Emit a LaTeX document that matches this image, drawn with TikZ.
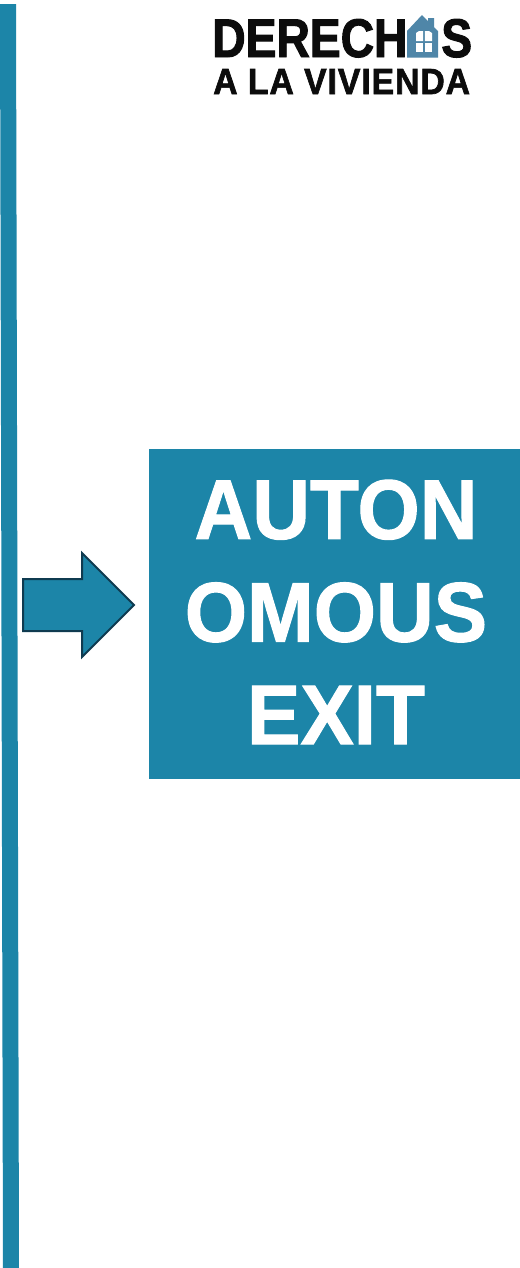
\documentclass[tikz,border=0pt]{standalone}
\usepackage{fontspec}
\setmainfont{Liberation Sans}
\newfontfamily\boxfont[FakeStretch=0.945,FakeBold=1.2]{Liberation Sans}
\newfontfamily\logofont[FakeStretch=0.85,FakeBold=1.8]{Liberation Sans}
\newfontfamily\subfont[FakeStretch=0.93,LetterSpace=2.6,FakeBold=1.8]{Liberation Sans}
\definecolor{teal}{HTML}{1C85A8}
\definecolor{arrowline}{HTML}{0F3B50}
\definecolor{house}{HTML}{4F86A8}
\definecolor{ink}{HTML}{0C0C0C}
\tikzset{
  panel/.style={fill=teal,draw=none},
  boxtext/.style={text=white,font=\boxfont\bfseries\fontsize{63.5pt}{77pt}\selectfont,align=center,inner sep=0pt},
  logotext/.style={text=ink,inner sep=0pt,anchor=base west},
}
\begin{document}
\begin{tikzpicture}[x=0.75pt,y=-0.75pt]
\useasboundingbox (0,0) rectangle (520,1268);
\fill[white] (0,0) rectangle (520,1268);
% vertical bar
\fill[panel] (0,4) -- (16,4) -- (19,1268) -- (3,1268) -- cycle;
% box
\node[panel,minimum width=278.25pt,minimum height=247.5pt,inner sep=0pt,anchor=north west] (box) at (149,449) {};
\node[boxtext,anchor=center] (label) at (336,612) {AUTON\\OMOUS\\EXIT};
% arrow
\draw[fill=teal,draw=arrowline,line width=1.5pt,miter limit=10]
  (23,579) -- (82,579) -- (82,553) -- (134,605) -- (82,657) -- (82,631) -- (23,631) -- cycle;
% logo
\node[logotext,font=\logofont\bfseries\fontsize{40.8pt}{40.8pt}\selectfont] (logoa) at (212,57) {DERECH};
\node[logotext,font=\logofont\bfseries\fontsize{40.8pt}{40.8pt}\selectfont] (logob) at (441,57) {S};
\node[logotext,font=\subfont\bfseries\fontsize{27.2pt}{27.2pt}\selectfont] (logoc) at (213,94) {A LA VIVIENDA};
% house
\fill[house] (407,57.5) -- (407,31) -- (422,15) -- (428,21) -- (428,18) -- (434,18) -- (434,27) -- (438,31) -- (438,57.5) -- cycle;
\fill[white] (416,36) -- (416,33) -- (419,31) -- (423.2,31) -- (423.2,41) -- (416,41) -- cycle;
\fill[white] (424.8,31) -- (429,31) -- (432,33) -- (432,41) -- (424.8,41) -- cycle;
\fill[white] (416,42.6) rectangle (423.2,52);
\fill[white] (424.8,42.6) rectangle (432,52);
\end{tikzpicture}
\end{document}
